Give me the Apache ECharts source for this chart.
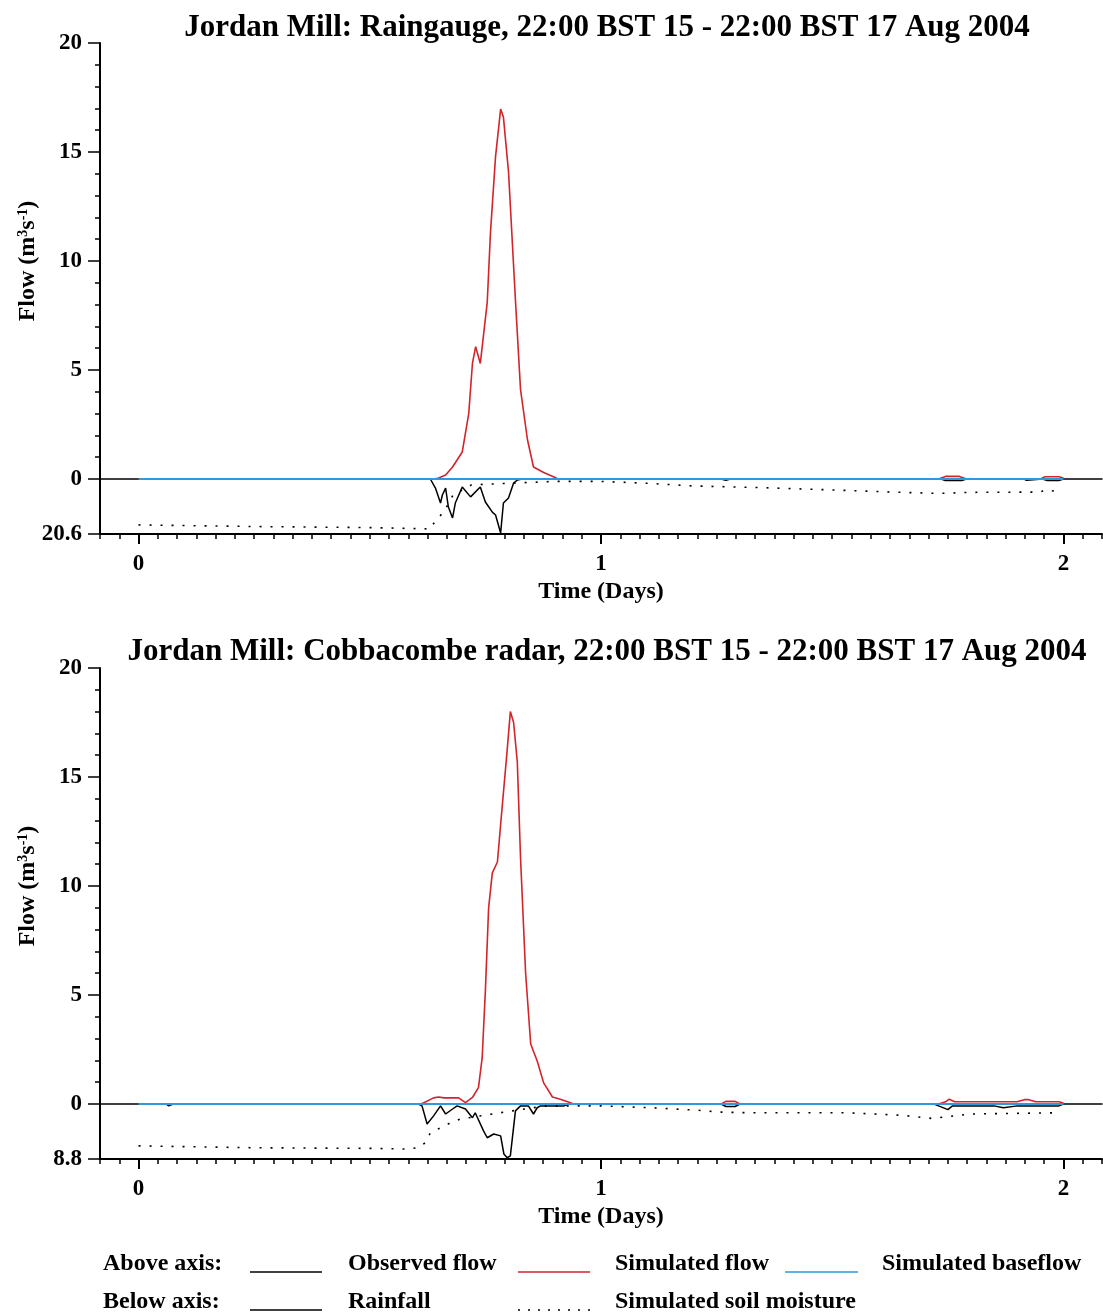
<!DOCTYPE html>
<html><head><meta charset="utf-8">
<script src="https://cdn.jsdelivr.net/npm/echarts@6/dist/echarts.min.js"></script>
<style>html,body{margin:0;padding:0;background:#fff}#c{width:1103px;height:1314px}</style>
</head><body><div id="c"></div><script>
// ---------- DATA ----------
const titleTop = 'Jordan Mill: Raingauge, 22:00 BST 15 - 22:00 BST 17 Aug 2004';
const titleBottom = 'Jordan Mill: Cobbacombe radar, 22:00 BST 15 - 22:00 BST 17 Aug 2004';
const xTickLabels = [0, 1, 2];
const yTickLabels = [0, 5, 10, 15, 20];
const rainMaxTop = 20.6;
const rainMaxBottom = 8.8;

// Top chart (raingauge)
const simFlowTopT = [0, 0.64, 0.649, 0.664, 0.679, 0.70, 0.714, 0.722, 0.729, 0.739, 0.754, 0.761, 0.772, 0.783, 0.789, 0.80, 0.815, 0.826, 0.841, 0.854, 0.876, 0.897, 0.905, 0.95, 1.73, 1.745, 1.76, 1.775, 1.79, 1.95, 1.96, 1.975, 1.99, 2.0];
const simFlowTopV = [0, 0, 0.05, 0.18, 0.55, 1.24, 3.0, 5.3, 6.07, 5.3, 8.1, 11.3, 14.8, 16.97, 16.6, 14.1, 8.2, 4.1, 1.8, 0.55, 0.3, 0.1, 0.02, 0, 0, 0.12, 0.12, 0.12, 0, 0, 0.1, 0.1, 0.1, 0.05];
const baseflowTopT = [0, 2];
const baseflowTopV = [0, 0];
const rainTopT = [0, 0.631, 0.642, 0.653, 0.657, 0.664, 0.67, 0.679, 0.685, 0.70, 0.718, 0.739, 0.75, 0.765, 0.772, 0.783, 0.789, 0.80, 0.811, 0.819, 0.83, 1.26, 1.27, 1.28, 1.735, 1.745, 1.78, 1.79, 1.915, 1.92, 1.955, 1.965, 1.99, 2.0];
const rainTopV = [0, 0, 3.4, 9, 6, 3.4, 10.5, 14.6, 9, 3, 6.7, 3, 8.6, 12.4, 13.5, 20.2, 9, 7.1, 1.5, 0.4, 0, 0, 0.5, 0, 0, 0.6, 0.6, 0, 0, 0.5, 0, 0.6, 0.6, 0];
const soilTopT = [0, 0.25, 0.5, 0.63, 0.645, 0.66, 0.68, 0.72, 0.9, 1.0, 1.1, 1.2, 1.34, 1.5, 1.65, 1.73, 1.8, 1.95, 1.96, 1.99];
const soilTopV = [17.2, 17.8, 18.2, 18.7, 15, 12.4, 6, 2.2, 0.9, 0.9, 1.6, 2.6, 3.2, 4.1, 5.0, 5.4, 5.0, 4.9, 4.1, 4.7];

// Bottom chart (radar)
const simFlowBotT = [0, 0.61, 0.617, 0.638, 0.649, 0.66, 0.692, 0.707, 0.722, 0.735, 0.743, 0.75, 0.757, 0.765, 0.776, 0.787, 0.797, 0.804, 0.811, 0.819, 0.826, 0.837, 0.848, 0.862, 0.876, 0.895, 0.912, 0.934, 0.94, 1.26, 1.27, 1.29, 1.30, 1.73, 1.745, 1.753, 1.765, 1.9, 1.915, 1.925, 1.94, 1.99, 2.0];
const simFlowBotV = [0, 0, 0.06, 0.28, 0.32, 0.28, 0.28, 0.06, 0.3, 0.75, 2.1, 5.2, 9.0, 10.6, 11.1, 13.8, 16.2, 18.0, 17.5, 15.7, 11.3, 6.0, 2.75, 1.97, 0.97, 0.32, 0.22, 0.06, 0, 0, 0.12, 0.12, 0, 0, 0.1, 0.22, 0.1, 0.1, 0.2, 0.2, 0.1, 0.1, 0.05];
const baseflowBotT = [0, 2];
const baseflowBotV = [0, 0];
const rainBotT = [0, 0.06, 0.065, 0.075, 0.6, 0.605, 0.613, 0.624, 0.638, 0.653, 0.664, 0.679, 0.689, 0.707, 0.722, 0.728, 0.746, 0.754, 0.768, 0.783, 0.79, 0.797, 0.804, 0.815, 0.826, 0.843, 0.854, 0.862, 0.869, 0.92, 0.93, 1.26, 1.27, 1.29, 1.30, 1.72, 1.73, 1.75, 1.76, 1.8, 1.85, 1.87, 1.9, 1.92, 1.94, 1.99, 2.0];
const rainBotV = [0, 0, 0.3, 0, 0, 0, 0.3, 3.2, 1.9, 0.3, 1.6, 0.8, 0.3, 0.8, 2.2, 1.4, 4.3, 5.4, 4.8, 5.1, 8.0, 8.6, 8.3, 1.1, 0.3, 0.3, 1.6, 0.6, 0.3, 0.3, 0, 0, 0.4, 0.4, 0, 0, 0.3, 0.9, 0.3, 0.3, 0.3, 0.6, 0.3, 0.3, 0.3, 0.3, 0];
const soilBotT = [0, 0.25, 0.5, 0.58, 0.605, 0.62, 0.631, 0.653, 0.675, 0.696, 0.8, 0.88, 0.95, 1.0, 1.11, 1.21, 1.26, 1.32, 1.53, 1.65, 1.715, 1.80, 1.99];
const soilBotV = [6.7, 7.0, 7.1, 7.2, 7.0, 6.2, 4.6, 3.8, 3.0, 2.4, 1.2, 0.3, 0.3, 0.3, 0.6, 1.0, 1.3, 1.4, 1.4, 1.8, 2.3, 1.6, 1.4];

// ---------- BUILD ----------
const zip = (t, v) => t.map((x, i) => [x, v[i]]);
const FONT = 'Liberation Serif';
const XMIN = -1 / 12, XMAX = 2 + 1 / 12;
const hourTicks = [];
for (let h = -2; h <= 50; h++) hourTicks.push(h / 24);
const txt = { fontFamily: FONT, fontWeight: 'bold', color: '#000' };

function charts(yTop) {
  return {
    gridFlow: { left: 100, right: 1, top: yTop, height: 436 },
    gridRain: { left: 100, right: 1, top: yTop + 436, height: 55 }
  };
}
const A = charts(43), B = charts(668);
const grids = [A.gridFlow, A.gridRain, B.gridFlow, B.gridRain];

function xZero(gi) {
  return { type: 'value', gridIndex: gi, min: XMIN, max: XMAX, position: 'bottom',
    axisLine: { show: true, onZero: false, lineStyle: { color: '#000', width: 1.5 } },
    axisTick: { show: false }, axisLabel: { show: false }, splitLine: { show: false } };
}
function xMain(gi) {
  return { type: 'value', gridIndex: gi, min: XMIN, max: XMAX, position: 'bottom',
    name: 'Time (Days)', nameLocation: 'middle', nameGap: 46,
    nameTextStyle: Object.assign({ fontSize: 24 }, txt),
    axisLine: { show: true, onZero: false, lineStyle: { color: '#000', width: 2 } },
    axisTick: { show: true, customValues: hourTicks, length: 5, lineStyle: { color: '#000', width: 1.5 } },
    axisLabel: Object.assign({ show: true, customValues: xTickLabels, fontSize: 23, margin: 19 }, txt),
    splitLine: { show: false } };
}
function xMajor(gi) {
  return { type: 'value', gridIndex: gi, min: XMIN, max: XMAX, position: 'bottom',
    axisLine: { show: false, onZero: false }, axisLabel: { show: false }, splitLine: { show: false },
    axisTick: { show: true, customValues: xTickLabels, length: 10, lineStyle: { color: '#000', width: 2 } } };
}
function yFlow(gi) {
  return { type: 'value', gridIndex: gi, min: 0, max: 20, interval: 5,
    name: '{b|Flow (m}{s|3}{b|s}{s|-1}{b|)}', nameLocation: 'middle', nameGap: 60, nameRotate: 90,
    nameTextStyle: Object.assign({ fontSize: 24, rich: {
      b: Object.assign({ fontSize: 24 }, txt),
      s: Object.assign({ fontSize: 14, verticalAlign: 'top' }, txt)
    } }, txt),
    axisLine: { show: true, onZero: false, lineStyle: { color: '#000', width: 2 } },
    axisTick: { show: true, length: 12, customValues: yTickLabels, lineStyle: { color: '#000', width: 1.5 } },
    minorTick: { show: true, splitNumber: 5, length: 5, lineStyle: { color: '#000', width: 1.5 } },
    axisLabel: Object.assign({ fontSize: 23, margin: 18, customValues: yTickLabels }, txt),
    splitLine: { show: false } };
}
function yRain(gi, max) {
  return { type: 'value', gridIndex: gi, min: 0, max: max, inverse: true,
    axisLine: { show: true, onZero: false, lineStyle: { color: '#000', width: 2 } },
    axisTick: { show: true, length: 12, customValues: [max], lineStyle: { color: '#000', width: 1.5 } },
    axisLabel: Object.assign({ fontSize: 23, margin: 18, customValues: [max], formatter: v => v.toFixed(1) }, txt),
    splitLine: { show: false } };
}

const xAxes = [xZero(0), xMain(1), xMajor(1), xZero(2), xMain(3), xMajor(3)];
const yAxes = [yFlow(0), yRain(1, rainMaxTop), yFlow(2), yRain(3, rainMaxBottom)];

const RED = '#d3242a', BLUE = '#2f9ad8';
function line(name, xi, yi, t, v, style, z) {
  return { name, type: 'line', xAxisIndex: xi, yAxisIndex: yi, data: zip(t, v),
    showSymbol: false, symbol: 'none', z, lineStyle: style, silent: true };
}
const series = [
  line('Rainfall', 1, 1, rainTopT, rainTopV, { color: '#000', width: 1.5 }, 2),
  line('Simulated soil moisture', 1, 1, soilTopT, soilTopV, { color: '#000', width: 1.6, type: [2, 9] }, 2),
  line('Simulated flow', 0, 0, simFlowTopT, simFlowTopV, { color: RED, width: 1.6 }, 3),
  line('Simulated baseflow', 0, 0, baseflowTopT, baseflowTopV, { color: BLUE, width: 2 }, 4),
  line('Rainfall', 4, 3, rainBotT, rainBotV, { color: '#000', width: 1.5 }, 2),
  line('Simulated soil moisture', 4, 3, soilBotT, soilBotV, { color: '#000', width: 1.6, type: [2, 9] }, 2),
  line('Simulated flow', 3, 2, simFlowBotT, simFlowBotV, { color: RED, width: 1.6 }, 3),
  line('Simulated baseflow', 3, 2, baseflowBotT, baseflowBotV, { color: BLUE, width: 2 }, 4)
];

const legendFont = 'bold 24px "Liberation Serif"';
function gText(text, x, y) {
  return { type: 'text', left: x, top: y, style: { text, font: legendFont, fill: '#000' } };
}
function gLine(x1, x2, y, stroke, dash) {
  return { type: 'line', shape: { x1, y1: y, x2, y2: y }, style: { stroke, lineWidth: 1.5, lineDash: dash || null } };
}
const graphic = [
  gText('Above axis:', 103, 1252), gLine(250, 322, 1272, '#000'),
  gText('Observed flow', 348, 1252), gLine(518, 590, 1272, RED),
  gText('Simulated flow', 615, 1252), gLine(785, 858, 1272, BLUE),
  gText('Simulated baseflow', 882, 1252),
  gText('Below axis:', 103, 1290), gLine(250, 322, 1310, '#000'),
  gText('Rainfall', 348, 1290), gLine(518, 590, 1310, '#000', [2, 8]),
  gText('Simulated soil moisture', 615, 1290)
];

const chart = echarts.init(document.getElementById('c'), null, { renderer: 'canvas' });
chart.setOption({
  animation: false,
  backgroundColor: '#fff',
  title: [
    { text: titleTop, left: 602, textAlign: 'center', top: 7, textStyle: Object.assign({ fontSize: 31 }, txt) },
    { text: titleBottom, left: 602, textAlign: 'center', top: 631, textStyle: Object.assign({ fontSize: 31 }, txt) }
  ],
  grid: grids,
  xAxis: xAxes,
  yAxis: yAxes,
  series,
  graphic
});
</script></body></html>
